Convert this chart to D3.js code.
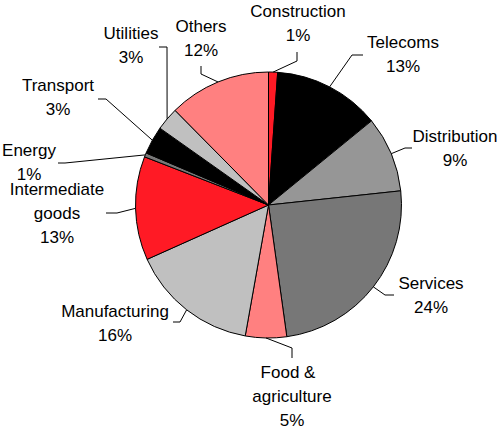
<!DOCTYPE html>
<html>
<head>
<meta charset="utf-8">
<script src="https://cdn.jsdelivr.net/npm/d3@7/dist/d3.min.js"></script>
<style>
  html, body { margin: 0; padding: 0; background: #fff; }
  svg { display: block; }
  text { font-family: "Liberation Sans", Arial, sans-serif; font-size: 17px; fill: #000; }
</style>
</head>
<body>
<div id="chart"></div>
<script>
// ---- data ----
const categories = ["Construction", "Telecoms", "Distribution", "Services", "Food & agriculture",
  "Manufacturing", "Intermediate goods", "Energy", "Transport", "Utilities", "Others"];
const shares = [1.1, 13.0, 9.2, 24.5, 5.0, 15.5, 12.6, 0.5, 3.4, 2.8, 12.4];
const shareLabels = ["1%", "13%", "9%", "24%", "5%", "16%", "13%", "1%", "3%", "3%", "12%"];
const labelLines = [["Construction"], ["Telecoms"], ["Distribution"], ["Services"],
  ["Food &", "agriculture"], ["Manufacturing"], ["Intermediate", "goods"], ["Energy"],
  ["Transport"], ["Utilities"], ["Others"]];

// ---- styles / layout ----
const colors = ["#FF1A25", "#000000", "#969696", "#777777", "#FF8080", "#C0C0C0",
  "#FF1A25", "#777777", "#000000", "#C0C0C0", "#FF8080"];
const W = 500, H = 430;
const cx = 268.5, cy = 205, R = 133;
const lineH = 24;
// label layout: text centre x, first baseline y, leader elbow and end
const labelLayout = [
  { x: 298, y: 17,  elbow: [297, 61],  end: [297, 52] },
  { x: 403, y: 48,  elbow: [352, 55],  end: [363, 55] },
  { x: 455, y: 142, elbow: [405, 148], end: [412, 148] },
  { x: 431, y: 289, elbow: [385, 295], end: [394, 295] },
  { x: 292, y: 378, elbow: [292, 348], end: [292, 358], dx0: -4 },
  { x: 115, y: 317, elbow: [180, 322], end: [173, 322] },
  { x: 57,  y: 195, elbow: [117, 213], end: [106, 213] },
  { x: 29,  y: 156, elbow: [65, 163],  end: [58, 163] },
  { x: 58,  y: 91,  elbow: [106, 99],  end: [98, 99] },
  { x: 131, y: 39,  elbow: [167, 47],  end: [159, 47] },
  { x: 201, y: 32,  elbow: [201, 74],  end: [201, 66] }
];

const svg = d3.select("#chart").append("svg").attr("width", W).attr("height", H);

const pie = d3.pie().sort(null).value(d => d)
  .startAngle(0).endAngle(2 * Math.PI);
const arcs = pie(shares);
const arc = d3.arc().innerRadius(0).outerRadius(R);

const g = svg.append("g").attr("transform", `translate(${cx},${cy})`);
g.selectAll("path").data(arcs).join("path")
  .attr("d", arc)
  .attr("fill", (d, i) => colors[i])
  .attr("stroke", "#000")
  .attr("stroke-width", 1)
  .attr("stroke-linejoin", "round");

// leader lines
svg.append("g").selectAll("polyline").data(arcs).join("polyline")
  .attr("points", (d, i) => {
    const a = (d.startAngle + d.endAngle) / 2;
    const sx = cx + R * Math.sin(a), sy = cy - R * Math.cos(a);
    const L = labelLayout[i];
    return [[sx, sy], L.elbow, L.end].map(p => p.join(",")).join(" ");
  })
  .attr("fill", "none")
  .attr("stroke", "#000")
  .attr("stroke-width", 1);

// labels
const lg = svg.append("g");
categories.forEach((c, i) => {
  const L = labelLayout[i];
  const lines = labelLines[i].concat([shareLabels[i]]);
  const t = lg.append("text").attr("text-anchor", "middle");
  lines.forEach((s, k) => {
    t.append("tspan")
      .attr("x", L.x + (k === 0 && L.dx0 ? L.dx0 : 0))
      .attr("y", L.y + k * lineH)
      .text(s);
  });
});
</script>
</body>
</html>
